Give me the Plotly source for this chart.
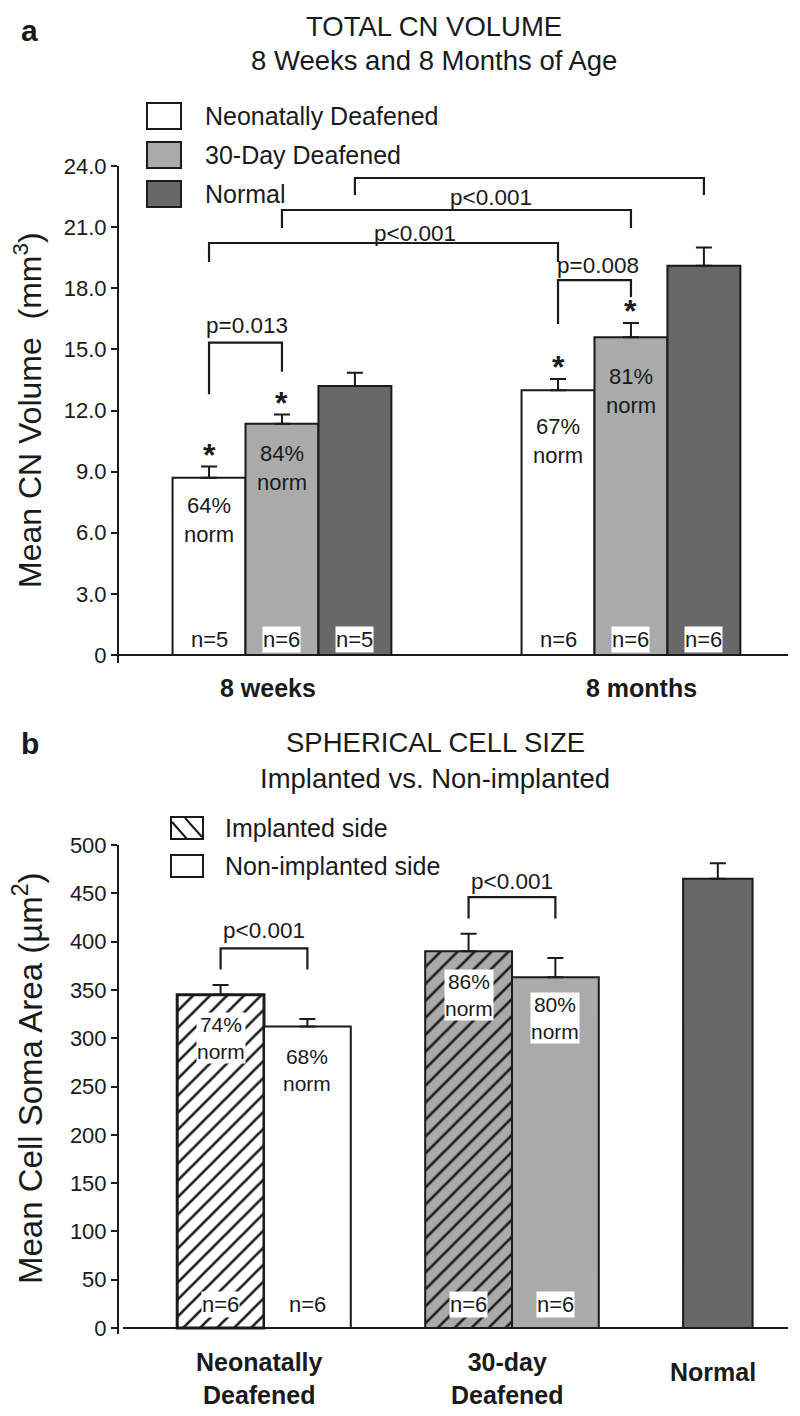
import plotly.graph_objects as go

FONT = "Liberation Sans, Arial, sans-serif"
INK = "#1a1a1a"
WHITE = "#ffffff"
LIGHT = "#aaaaaa"
DARK = "#686868"

# ---------------- panel a : total CN volume ----------------
ages = ["8 weeks", "8 months"]
groups_a = ["Neonatally Deafened", "30-Day Deafened", "Normal"]
vol_nd = [8.7, 13.0]
vol_30d = [11.35, 15.6]
vol_norm = [13.2, 19.1]
sem_nd = [0.55, 0.55]
sem_30d = [0.45, 0.7]
sem_norm = [0.65, 0.9]
pct_nd = ["64%", "67%"]
pct_30d = ["84%", "81%"]
n_nd = ["n=5", "n=6"]
n_30d = ["n=6", "n=6"]
n_norm = ["n=5", "n=6"]
ticks_a = [0, 3, 6, 9, 12, 15, 18, 21, 24]
ticktext_a = ["0", "3.0", "6.0", "9.0", "12.0", "15.0", "18.0", "21.0", "24.0"]
# (bar from, bar to, bracket top, left leg end, right leg end, label, label x, label y)
brackets_a = [
    ((0, 0), (1, 0), 15.33, 12.8, 13.9, "p=0.013", -0.10, 16.15),
    ((0, 0), (0, 1), 20.22, 19.29, 19.29, "p<0.001", 0.38, 20.71),
    ((1, 0), (1, 1), 21.84, 20.96, 20.96, "p<0.001", 0.60, 22.43),
    ((2, 0), (2, 1), 23.41, 22.58, 22.58, "p<0.001", 0.78, 24.05),
    ((0, 1), (1, 1), 18.40, 16.25, 17.57, "p=0.008", 0.905, 19.14),
]
# text block centres inside bars
pct_y_nd = [6.63, 10.5]
pct_y_30d = [9.18, 12.96]

# ---------------- panel b : spherical cell size ----------------
conditions = ["Neonatally<br>Deafened", "30-day<br>Deafened", "Normal"]
soma_impl = [345, 390]
soma_nonimpl = [312, 363]
soma_norm = [465]
sem_impl = [10, 18]
sem_nonimpl = [8, 20]
sem_norm_b = [16]
pct_impl = ["74%", "86%"]
pct_nonimpl = ["68%", "80%"]
n_impl = ["n=6", "n=6"]
n_nonimpl = ["n=6", "n=6"]
ticks_b = [0, 50, 100, 150, 200, 250, 300, 350, 400, 450, 500]
pct_y_impl = [300, 345]
pct_y_nonimpl = [267, 321]
brackets_b = [
    (0, 393, 371, "p<0.001", 411),
    (1, 446, 424, "p<0.001", 462),
]

# ---------------- geometry ----------------
# page body has an 8px margin, so the figure is 8px smaller and coordinates are shifted
FW, FH = 792, 1408


def px(x):
    return (x - 8) / FW


def py(y):
    return 1 - (y - 8) / FH


W_A = 0.209
group_x_a = [0, 1]


def xa(s, g):
    return group_x_a[g] + (s - 1) * W_A


W_B = 0.35
W_N = 0.28
group_x_b = [0, 1, 1.83]


def xb(side, g):
    return group_x_b[g] + (side - 0.5) * W_B


fig = go.Figure()

line = dict(color=INK, width=2)


def err(vals):
    return dict(type="data", array=vals, arrayminus=[0] * len(vals), symmetric=False,
                color=INK, thickness=2, width=8)


# panel a bars
for s, (vals, sem, col) in enumerate([(vol_nd, sem_nd, WHITE), (vol_30d, sem_30d, LIGHT),
                                        (vol_norm, sem_norm, DARK)]):
    fig.add_trace(go.Bar(
        x=[xa(s, g) for g in range(len(ages))], y=vals, width=W_A,
        marker=dict(color=col, line=line), error_y=err(sem),
        xaxis="x", yaxis="y", showlegend=False, hoverinfo="skip"))

# panel b bars: implanted side is hatched
for g, col, lw in [(0, WHITE, 3), (1, LIGHT, 2)]:
    fig.add_trace(go.Bar(
        x=[xb(0, g)], y=[soma_impl[g]], width=W_B,
        marker=dict(color=col, line=dict(color=INK, width=lw),
                    pattern=dict(shape="/", fgcolor=INK, bgcolor=col, fgopacity=1,
                                 size=12, solidity=0.22)),
        error_y=err([sem_impl[g]]), xaxis="x2", yaxis="y2", showlegend=False,
        hoverinfo="skip"))
    fig.add_trace(go.Bar(
        x=[xb(1, g)], y=[soma_nonimpl[g]], width=W_B,
        marker=dict(color=col, line=line),
        error_y=err([sem_nonimpl[g]]), xaxis="x2", yaxis="y2", showlegend=False,
        hoverinfo="skip"))
fig.add_trace(go.Bar(
    x=[group_x_b[2]], y=soma_norm, width=W_N,
    marker=dict(color=DARK, line=line),
    error_y=err(sem_norm_b), xaxis="x2", yaxis="y2", showlegend=False, hoverinfo="skip"))

ann = []
shapes = []


def text(x, y, t, size, xref="paper", yref="paper", bold=False, bg=None, **kw):
    d = dict(x=x, y=y, xref=xref, yref=yref, text=f"<b>{t}</b>" if bold else t,
             showarrow=False, xanchor="center", yanchor="middle",
             font=dict(family=FONT, size=size, color=INK))
    if bg:
        d.update(bgcolor=bg, borderpad=0)
    d.update(kw)
    ann.append(d)


# titles
text(px(29), py(30), "a", 30, bold=True)
text(px(434), py(26), "TOTAL CN VOLUME", 27.5)
text(px(434), py(61), "8 Weeks and 8 Months of Age", 27.5)
text(px(30), py(743), "b", 30, bold=True)
text(px(435), py(742), "SPHERICAL CELL SIZE", 27.5)
text(px(435), py(778), "Implanted vs. Non-implanted", 27.5)

# y titles
text(px(28), py(410), "Mean CN Volume  (mm<sup>3</sup>)", 32, textangle=-90)
text(px(28), py(1078), "Mean Cell Soma Area (µm<sup>2</sup>)", 33, textangle=-90)

# category labels
text(xa(1, 0) - 0.04, py(688), ages[0], 25, xref="x", bold=True)
text(xa(1, 1) + 0.03, py(688), ages[1], 25, xref="x", bold=True)
for g, lab in enumerate(conditions):
    text(group_x_b[g] - 0.02, py(1378 if g < 2 else 1372), lab, 25, xref="x2", bold=True)

# x axis baselines
shapes.append(dict(type="line", xref="paper", yref="y", x0=px(119), x1=px(788), y0=0, y1=0,
                   line=dict(color=INK, width=2)))
shapes.append(dict(type="line", xref="paper", yref="y2", x0=px(123), x1=px(788), y0=0, y1=0,
                   line=dict(color=INK, width=2)))

# panel a in-bar labels, n, asterisks
for g in range(len(ages)):
    text(xa(0, g), pct_y_nd[g], pct_nd[g] + "<br>norm", 22, xref="x", yref="y")
    text(xa(1, g), pct_y_30d[g], pct_30d[g] + "<br>norm", 22, xref="x", yref="y")
    text(xa(0, g), 0.74, n_nd[g], 22, xref="x", yref="y")
    text(xa(1, g), 0.74, n_30d[g], 22, xref="x", yref="y", bg=WHITE)
    text(xa(2, g), 0.74, n_norm[g], 22, xref="x", yref="y", bg=WHITE)
    text(xa(0, g), vol_nd[g] + sem_nd[g], "*", 32, xref="x", yref="y", bold=True,
         yanchor="bottom", yshift=-8)
    text(xa(1, g), vol_30d[g] + sem_30d[g], "*", 32, xref="x", yref="y", bold=True,
         yanchor="bottom", yshift=-8)

for (a, b, yh, yl, yr, lab, lx, ly) in brackets_a:
    x0, x1 = xa(*a), xa(*b)
    shapes.append(dict(type="path", xref="x", yref="y",
                       path=f"M {x0},{yl} L {x0},{yh} L {x1},{yh} L {x1},{yr}",
                       line=dict(color=INK, width=2.2)))
    text(lx, ly, lab, 22.5, xref="x", yref="y")

# panel b in-bar labels (one white box each)
for g in range(2):
    for side, yv, lab in [(0, pct_y_impl[g], pct_impl[g]), (1, pct_y_nonimpl[g], pct_nonimpl[g])]:
        bg = WHITE if (side == 0 or g == 1) else None
        text(xb(side, g), yv, lab + "<br>norm", 21, xref="x2", yref="y2", bg=bg)
    text(xb(0, g), 24, n_impl[g], 22, xref="x2", yref="y2", bg=WHITE)
    text(xb(1, g), 24, n_nonimpl[g], 22, xref="x2", yref="y2", bg=WHITE if g == 1 else None)

for (g, yh, yb, lab, ly) in brackets_b:
    x0, x1 = xb(0, g), xb(1, g)
    shapes.append(dict(type="path", xref="x2", yref="y2",
                       path=f"M {x0},{yb} L {x0},{yh} L {x1},{yh} L {x1},{yb}",
                       line=dict(color=INK, width=2.2)))
    text(group_x_b[g], ly, lab, 22.5, xref="x2", yref="y2")

# legend a
for i, (lab, col) in enumerate(zip(groups_a, [WHITE, LIGHT, DARK])):
    top = 103 + 39 * i
    shapes.append(dict(type="rect", xref="paper", yref="paper", x0=px(147), x1=px(181),
                       y0=py(top), y1=py(top + 26), fillcolor=col,
                       line=dict(color=INK, width=2)))
    text(px(203), py(top + 13), lab, 25, xanchor="left")

# legend b
legend_b = ["Implanted side", "Non-implanted side"]
for i, lab in enumerate(legend_b):
    top = 817 + 38 * i
    shapes.append(dict(type="rect", xref="paper", yref="paper", x0=px(171), x1=px(203),
                       y0=py(top), y1=py(top + 22), fillcolor=WHITE,
                       line=dict(color=INK, width=2)))
    text(px(223), py(top + 11), lab, 25, xanchor="left")
for (xa0, ya0, xa1, ya1) in [(172, 822, 187, 839), (185, 818, 202, 837)]:
    shapes.append(dict(type="line", xref="paper", yref="paper", x0=px(xa0), y0=py(ya0),
                       x1=px(xa1), y1=py(ya1), line=dict(color=INK, width=2)))

yax = dict(showline=True, linecolor=INK, linewidth=2, ticks="outside", ticklen=6,
           tickwidth=2, tickcolor=INK, showgrid=False, zeroline=False, automargin=False,
           tickfont=dict(family=FONT, size=22, color=INK), fixedrange=True)
xax = dict(visible=False, fixedrange=True)

fig.update_layout(
    width=FW, height=FH, margin=dict(l=0, r=0, t=0, b=0),
    paper_bgcolor=WHITE, plot_bgcolor="rgba(0,0,0,0)",
    barmode="overlay", showlegend=False,
    xaxis=dict(xax, domain=[px(119), px(788)], range=[-0.467, 1.450]),
    yaxis=dict(yax, domain=[py(663.15), py(166)], range=[-0.4, 24],
               tickvals=ticks_a, ticktext=ticktext_a),
    xaxis2=dict(xax, domain=[px(123), px(788)], range=[-0.5685, 2.113]),
    yaxis2=dict(yax, domain=[py(1333.8), py(845)], range=[-6, 500], tickvals=ticks_b),
    annotations=ann, shapes=shapes,
)

fig.write_html("out.html")
